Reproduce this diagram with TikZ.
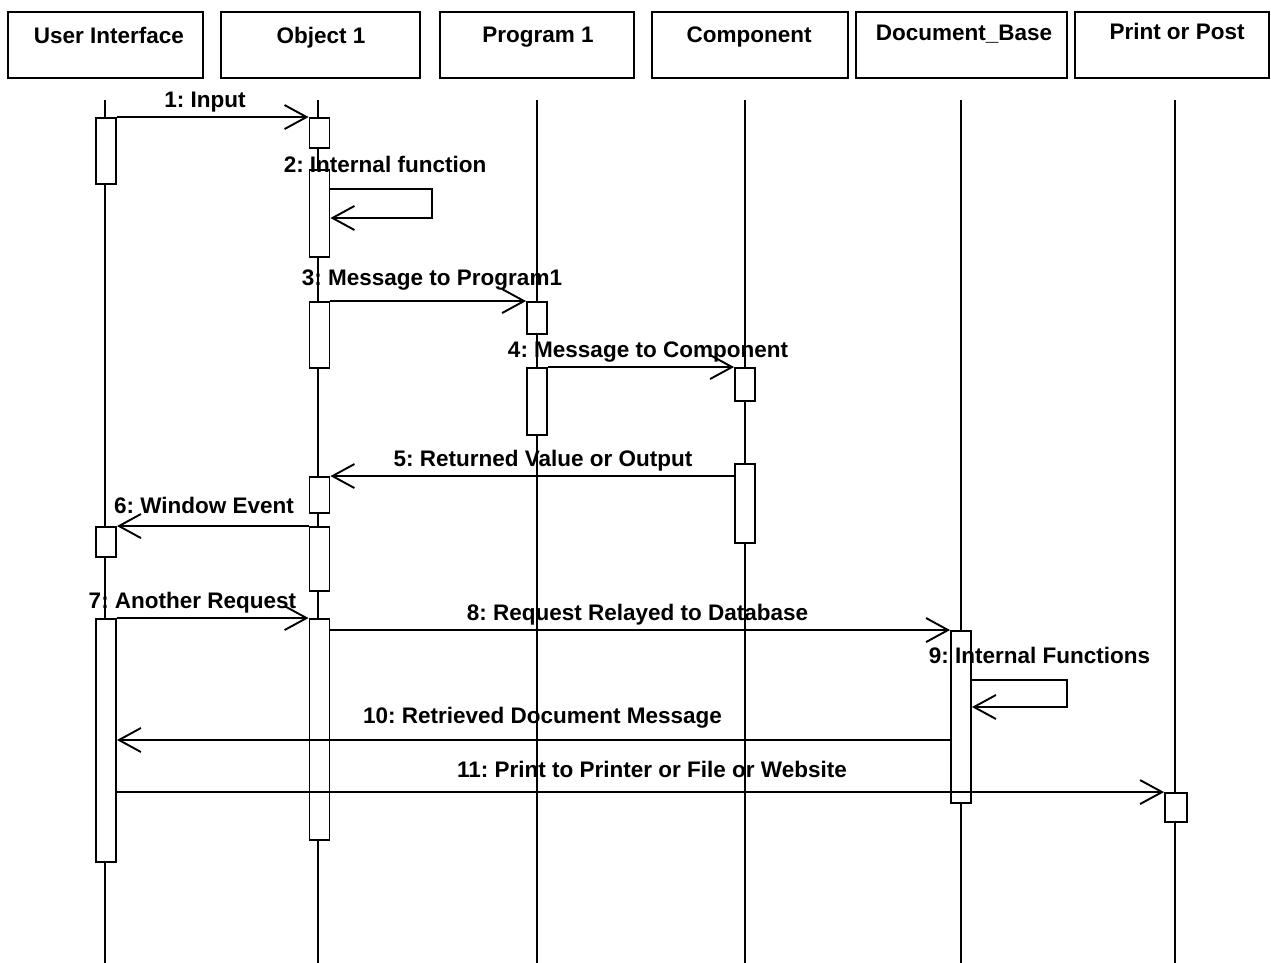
\documentclass[tikz,border=0pt]{standalone}
\usepackage{fontspec}
\setmainfont{Liberation Sans}
\usetikzlibrary{arrows.meta}
\frenchspacing
\tikzset{
  hdr/.style={draw, line width=1.8pt, rectangle, inner sep=0pt},
  hdrtext/.style={font=\fontsize{22.5}{26}\selectfont\bfseries, anchor=base, inner sep=0pt},
  lbl/.style={font=\fontsize{22.5}{26}\selectfont\bfseries, anchor=base, inner sep=0pt},
  life/.style={line width=1.6pt},
  act/.style={draw, fill=white, line width=1.9pt, rectangle, minimum width=20pt, inner sep=0pt},
  msg/.style={line width=1.9pt, -{Straight Barb[length=22pt,width=24pt,line width=1.9pt]}},
}
\begin{document}
\begin{tikzpicture}[x=1pt,y=-1pt]
\useasboundingbox (0,0) rectangle (1271,963);
% header boxes
\node[hdr, minimum width=195pt, minimum height=66pt] (ui) at (105.5,45) {};
\node[hdr, minimum width=199pt, minimum height=66pt] (obj) at (320.5,45) {};
\node[hdr, minimum width=194pt, minimum height=66pt] (prog) at (537,45) {};
\node[hdr, minimum width=196pt, minimum height=66pt] (comp) at (750,45) {};
\node[hdr, minimum width=211pt, minimum height=66pt] (doc) at (961.5,45) {};
\node[hdr, minimum width=194pt, minimum height=66pt] (prt) at (1172,45) {};
\node[hdrtext] (uit) at (109,44) {User Interface};
\node[hdrtext] (objt) at (321,44) {Object 1};
\node[hdrtext] (progt) at (538,43) {Program 1};
\node[hdrtext] (compt) at (749,43) {Component};
\node[hdrtext] (doct) at (964,41) {Document\_Base};
\node[hdrtext] (prtt) at (1177,40) {Print or Post};
% lifelines
\coordinate (lt) at (0,100);
\coordinate (lb) at (0,963);
\coordinate (xui) at (105,0);
\coordinate (xobj) at (318,0);
\coordinate (xprog) at (537,0);
\coordinate (xcomp) at (745,0);
\coordinate (xdoc) at (961,0);
\coordinate (xprt) at (1175,0);
\foreach \c in {xui,xobj,xprog,xcomp,xdoc,xprt}
  \draw[life] (\c |- lt) -- (\c |- lb);
% activations
\node[act, minimum height=66pt] (uiA1) at (106,151) {};
\node[act, minimum height=30pt] (uiA2) at (106,542) {};
\node[act, minimum height=243pt] (uiA3) at (106,740.5) {};
\node[act, minimum height=30pt] (objA1) at (319.5,133) {};
\node[act, minimum height=87pt] (objA2) at (319.5,213.5) {};
\node[act, minimum height=66pt] (objA3) at (319.5,335) {};
\node[act, minimum height=36pt] (objA4) at (319.5,495) {};
\node[act, minimum height=64pt] (objA5) at (319.5,559) {};
\node[act, minimum height=221pt] (objA6) at (319.5,729.5) {};
\node[act, minimum height=32pt] (progA1) at (537,318) {};
\node[act, minimum height=67pt] (progA2) at (537,401.5) {};
\node[act, minimum height=33pt] (compA1) at (745,384.5) {};
\node[act, minimum height=79pt] (compA2) at (745,503.5) {};
\node[act, minimum height=172pt] (docA) at (961,717) {};
\node[act, minimum height=29pt, minimum width=22pt] (prtA) at (1176,807.5) {};
% messages
\draw[msg] (uiA1.north east) -- (objA1.north west);
\node[lbl] (m1) at (205,108) {1: Input};
\coordinate (l2a) at (432,189);
\coordinate (l2b) at (432,218);
\draw[msg] (objA2.east |- l2a) -- (l2a) -- (l2b) -- (objA2.east |- l2b);
\node[lbl] (m2) at (385,172) {2: Internal function};
\draw[msg] (objA3.north east) -- (progA1.north west);
\node[lbl] (m3) at (432,285) {3: Message to Program1};
\draw[msg] (progA2.north east) -- (compA1.north west);
\node[lbl] (m4) at (648,357) {4: Message to Component};
\draw[msg] (objA4.north east -| compA2.west) -- (objA4.north east);
\node[lbl] (m5) at (543,466) {5: Returned Value or Output};
\draw[msg] (objA5.north west) -- (uiA2.north east);
\node[lbl] (m6) at (204,513) {6: Window Event};
\draw[msg] (uiA3.north east) -- (objA6.north west);
\node[lbl] (m7) at (192.5,608) {7: Another Request};
\draw[msg] (objA6.east |- docA.north) -- (docA.north west);
\node[lbl] (m8) at (637.5,620) {8: Request Relayed to Database};
\coordinate (l9a) at (1067,680);
\coordinate (l9b) at (1067,707);
\draw[msg] (docA.east |- l9a) -- (l9a) -- (l9b) -- (docA.east |- l9b);
\node[lbl] (m9) at (1039.5,663) {9: Internal Functions};
\coordinate (y10) at (0,740);
\draw[msg] (docA.west |- y10) -- (uiA3.east |- y10);
\node[lbl] (m10) at (542.5,723) {10: Retrieved Document Message};
\draw[msg] (uiA3.east |- prtA.north) -- (prtA.north west);
\node[lbl] (m11) at (652,777) {11: Print to Printer or File or Website};
\end{tikzpicture}
\end{document}
